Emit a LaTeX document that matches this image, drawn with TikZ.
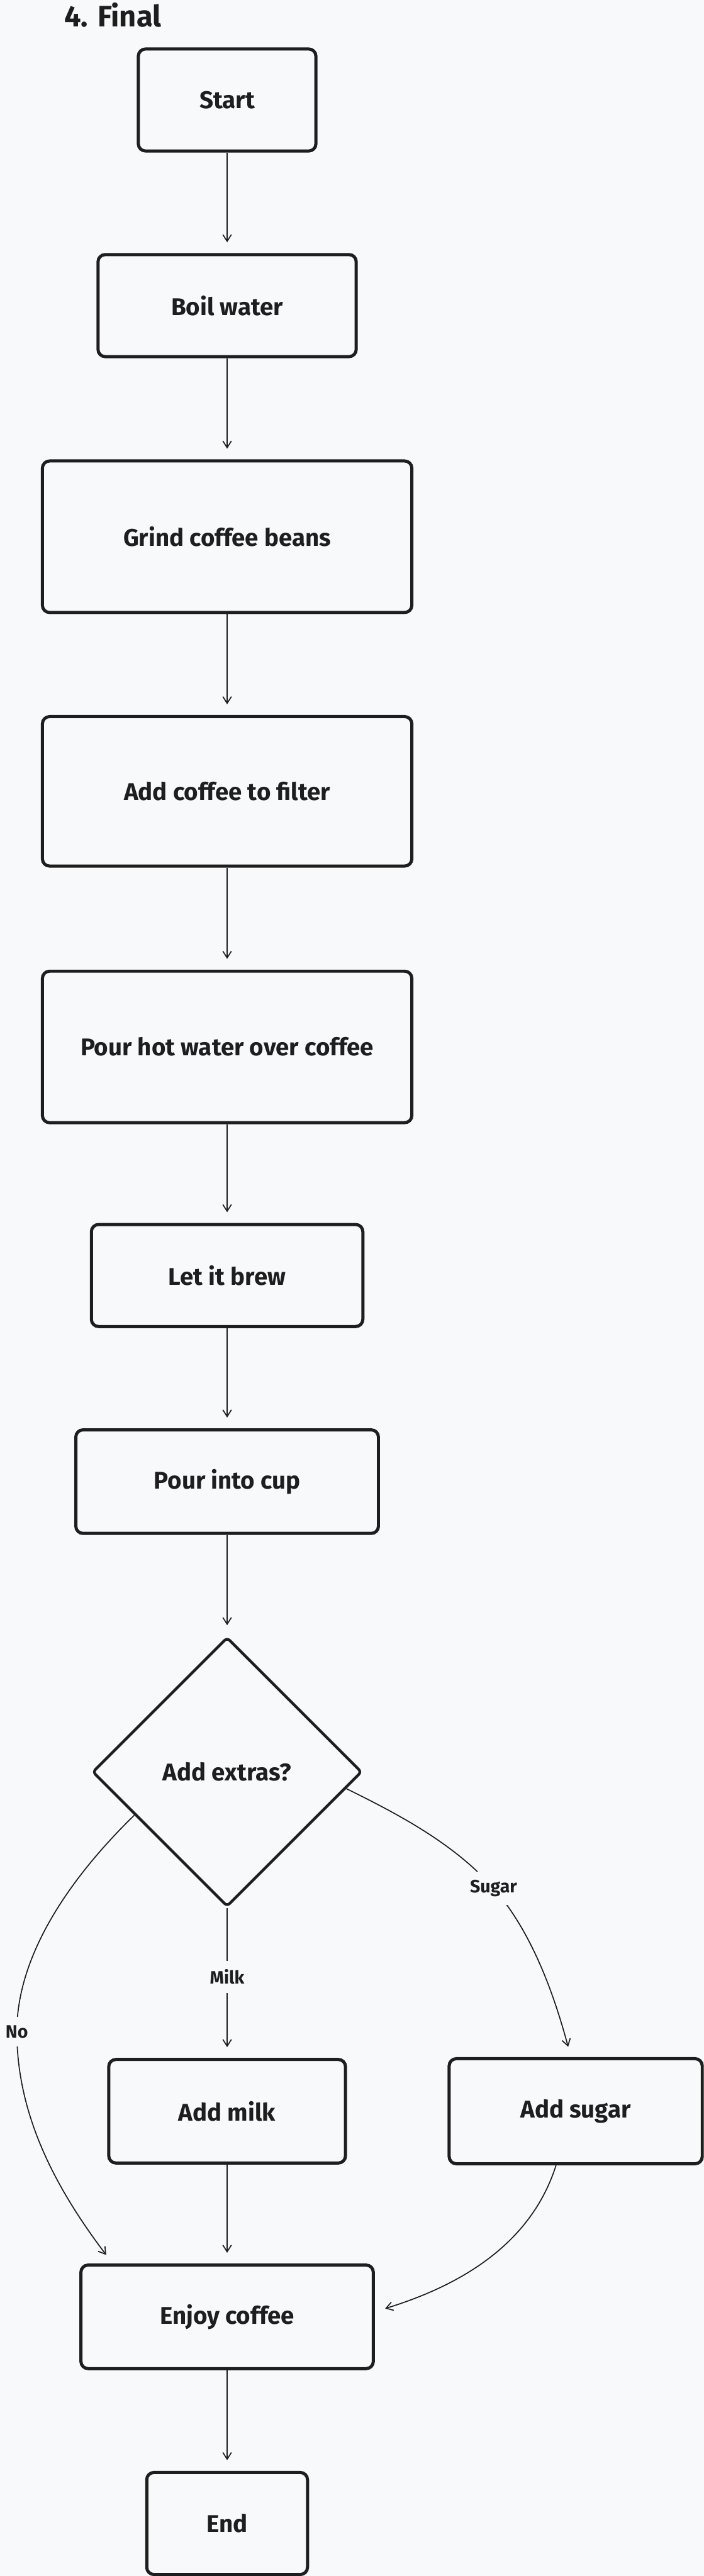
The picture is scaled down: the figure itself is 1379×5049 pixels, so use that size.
\documentclass[tikz,border=0pt]{standalone}
\usepackage{fontspec}
\setmainfont{Fira Sans}
\usetikzlibrary{arrows.meta,shapes.geometric}
\definecolor{paper}{HTML}{F8F9FB}
\definecolor{ink}{HTML}{1E1E1E}

\begin{document}
\begin{tikzpicture}[x=0.02cm, y=-0.02cm, >={Straight Barb[length=7.5pt,width=9.5pt]},
  box/.style={draw=ink, line width=3.5pt, rounded corners=8pt, fill=paper, text=ink,
    font=\bfseries\fontsize{27}{32}\selectfont},
  decision/.style={diamond, draw=ink, line width=3pt, rounded corners=4pt, fill=paper, text=ink,
    inner sep=0pt, font=\bfseries\fontsize{27}{32}\selectfont},
  arr/.style={->, draw=ink, line width=1.2pt, shorten >=0.42cm},
  lbl/.style={fill=paper, text=ink, inner xsep=5pt, inner ysep=0.33cm, font=\bfseries\fontsize{20}{24}\selectfont}]
% background
\fill[paper] (0,0) rectangle (1379,5049);
\useasboundingbox (0,0) rectangle (1379,5049);

% title
\node[anchor=base west, text=ink, font=\bfseries\fontsize{33}{40}\selectfont] (title) at (120,52) {4. Final};

% steps
\node[box, minimum width=6.96cm, minimum height=4cm] (start) at (445,196) {Start};
\node[box, minimum width=10.12cm, minimum height=4cm] (boil) at (445,599) {Boil water};
\node[box, minimum width=14.48cm, minimum height=5.94cm] (grind) at (445,1052) {Grind coffee beans};
\node[box, minimum width=14.48cm, minimum height=5.86cm] (addcoffee) at (445,1551) {Add coffee to filter};
\node[box, minimum width=14.48cm, minimum height=5.94cm] (pourwater) at (445,2052) {Pour hot water over coffee};
\node[box, minimum width=10.64cm, minimum height=4cm] (brew) at (445,2500) {Let it brew};
\node[box, minimum width=11.86cm, minimum height=4.06cm] (pourcup) at (445,2904) {Pour into cup};

% decision
\node[decision, minimum width=10.56cm, minimum height=10.56cm] (extras) at (445,3473) {Add extras?};

% extras and end
\node[box, minimum width=9.28cm, minimum height=4.06cm] (addmilk) at (445,4138) {Add milk};
\node[box, minimum width=9.92cm, minimum height=4.12cm] (addsugar) at (1128,4138) {Add sugar};
\node[box, minimum width=11.46cm, minimum height=4.06cm] (enjoy) at (445,4541) {Enjoy coffee};
\node[box, minimum width=6.30cm, minimum height=4cm] (finish) at (445,4946) {End};

% main line
\draw[arr] (start) -- (boil);
\draw[arr] (boil) -- (grind);
\draw[arr] (grind) -- (addcoffee);
\draw[arr] (addcoffee) -- (pourwater);
\draw[arr] (pourwater) -- (brew);
\draw[arr] (brew) -- (pourcup);
\draw[arr] (pourcup) -- (extras);
\draw[arr] (extras) -- (addmilk) node[lbl, pos=0.46] {Milk};
\draw[arr] (addmilk) -- (enjoy);
\draw[arr] (enjoy) -- (finish);

% branches
\draw[arr] (extras.205) .. controls (151,3667) and (33,3822) .. (33,3982) node[lbl] {No}
  .. controls (33,4147) and (110,4290) .. (enjoy.155);
\draw[arr] (extras.-8) .. controls (785,3558) and (891,3615) .. (967,3701) node[lbl] {Sugar}
  .. controls (1046,3791) and (1088,3919) .. (addsugar.95);
\draw[arr] (addsugar.250) .. controls (1040,4400) and (900,4480) .. (enjoy.2);
\end{tikzpicture}
\end{document}
